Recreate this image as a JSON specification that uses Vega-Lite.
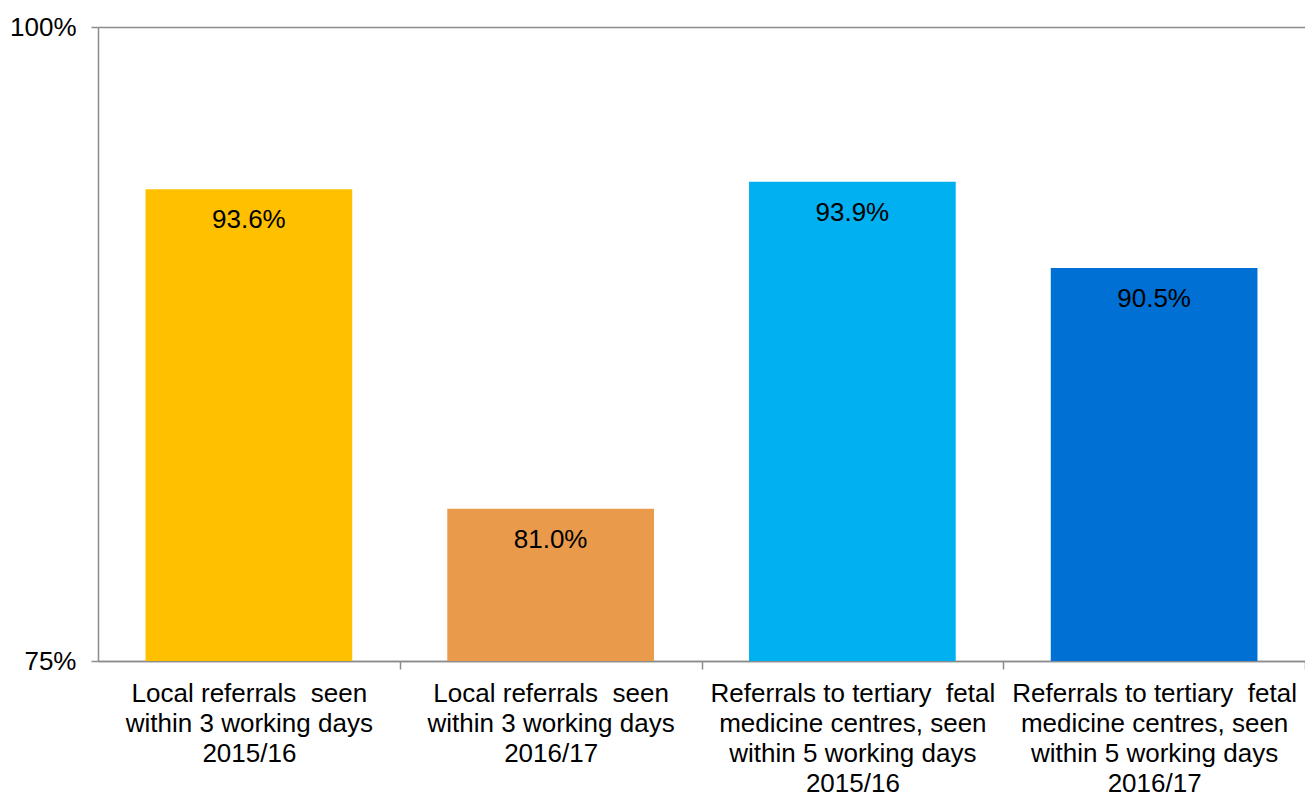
{
  "$schema": "https://vega.github.io/schema/vega-lite/v6.json",
  "width": 1207,
  "height": 634,
  "autosize": {"type": "none"},
  "padding": {"left": 98, "top": 27, "right": 0, "bottom": 135},
  "background": "white",
  "config": {
    "view": {"stroke": null},
    "font": "Liberation Sans",
    "text": {"font": "Liberation Sans"}
  },
  "data": {
    "values": [
      {"category": "Local referrals\u00a0 seen|within 3 working days|2015/16", "value": 93.6, "label": "93.6%", "order": 1},
      {"category": "Local referrals\u00a0 seen|within 3 working days|2016/17", "value": 81.0, "label": "81.0%", "order": 2},
      {"category": "Referrals to tertiary\u00a0 fetal|medicine centres, seen|within 5 working days|2015/16", "value": 93.9, "label": "93.9%", "order": 3},
      {"category": "Referrals to tertiary\u00a0 fetal|medicine centres, seen|within 5 working days|2016/17", "value": 90.5, "label": "90.5%", "order": 4}
    ]
  },
  "encoding": {
    "x": {
      "field": "category",
      "type": "nominal",
      "sort": {"field": "order"},
      "scale": {"paddingInner": 0.315, "paddingOuter": 0.1575},
      "axis": {
        "title": null,
        "labelAngle": 0,
        "labelExpr": "split(datum.label, '|')",
        "labelFont": "Liberation Sans",
        "labelFontSize": 26,
        "labelLineHeight": 30,
        "labelColor": "#000000",
        "labelPadding": 11,
        "labelLimit": 400,
        "tickOffset": 150.875,
        "labelOffset": -150.875,
        "tickSize": 8,
        "tickColor": "#8c8c8c",
        "tickWidth": 1.5,
        "domainColor": "#8c8c8c",
        "domainWidth": 1.5,
        "grid": false
      }
    }
  },
  "layer": [
    {
      "mark": {"type": "bar", "clip": true},
      "encoding": {
        "y": {
          "field": "value",
          "type": "quantitative",
          "scale": {"domain": [75, 100], "nice": false, "zero": false},
          "axis": {
            "title": null,
            "values": [75, 100],
            "labelExpr": "datum.value + '%'",
            "labelFont": "Liberation Sans",
            "labelFontSize": 26,
            "labelColor": "#000000",
            "labelPadding": 15,
            "tickSize": 7,
            "tickColor": "#8c8c8c",
            "tickWidth": 1.5,
            "domainColor": "#8c8c8c",
            "domainWidth": 1.5,
            "grid": true,
            "gridColor": "#8c8c8c",
            "gridWidth": 1.5
          }
        },
        "y2": {"datum": 75},
        "color": {
          "field": "category",
          "type": "nominal",
          "sort": {"field": "order"},
          "scale": {"range": ["#FFC000", "#E99A4B", "#00B0F0", "#0170D4"]},
          "legend": null
        }
      }
    },
    {
      "mark": {"type": "text", "fontSize": 26, "font": "Liberation Sans", "color": "#000000", "baseline": "middle", "dy": 31},
      "encoding": {
        "y": {"field": "value", "type": "quantitative"},
        "text": {"field": "label"}
      }
    }
  ]
}
